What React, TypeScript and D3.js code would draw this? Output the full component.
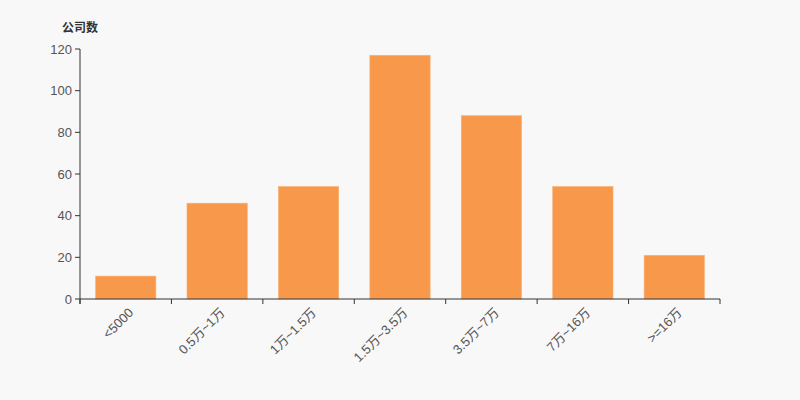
import React from "react";
import * as d3 from "d3";

const categories = ["<5000", "0.5万~1万", "1万~1.5万", "1.5万~3.5万", "3.5万~7万", "7万~16万", ">=16万"];
const counts = [11, 46, 54, 117, 88, 54, 21];
const yTicks = [0, 20, 40, 60, 80, 100, 120];
const yTitle = "公司数";

export default function App() {
  const W = 800, H = 400;
  const left = 80, right = 720, top = 49, bottom = 299;
  const x = d3.scaleBand<string>().domain(categories).range([left, right]).paddingInner(0.34).paddingOuter(0.17);
  const xb = d3.scaleBand<string>().domain(categories).range([left, right]);
  const y = d3.scaleLinear().domain([0, 120]).range([bottom, top]);
  const font = "Arial, 'Liberation Sans', 'Noto Sans CJK SC', sans-serif";
  const boundaries = d3.range(categories.length + 1).map(i => left + i * xb.step());
  return (
    <svg width={W} height={H} style={{ position: "absolute", left: 0, top: 0, background: "#f8f8f8" }} fontFamily={font}>
      <rect x={0} y={0} width={W} height={H} fill="#f8f8f8" />
      <text x={62} y={32} fontSize={12} fontWeight="bold" fill="#333">{yTitle}</text>
      {categories.map((c, i) => (
        <rect key={c} x={x(c)} y={y(counts[i])} width={x.bandwidth()} height={bottom - y(counts[i])}
          fill="#f7984a" stroke="#f9b47a" strokeWidth={0.6} />
      ))}
      <line x1={left} x2={left} y1={top} y2={bottom + 5} stroke="#333" />
      {yTicks.map(t => (
        <g key={t}>
          <line x1={left - 5} x2={left} y1={y(t)} y2={y(t)} stroke="#333" />
          <text x={left - 8} y={y(t)} dy="0.35em" textAnchor="end" fontSize={13} fill="#555">{t}</text>
        </g>
      ))}
      <line x1={left} x2={right} y1={bottom} y2={bottom} stroke="#333" />
      {boundaries.map((b, i) => (
        <line key={i} x1={b} x2={b} y1={bottom} y2={bottom + 5} stroke="#333" />
      ))}
      {categories.map(c => {
        const cx = (xb(c) as number) + xb.step() / 2;
        return (
          <text key={c} transform={`translate(${cx + 2},${bottom + 8}) rotate(-45)`} textAnchor="end" dy="0.7em"
            fontSize={13} fill="#555">{c}</text>
        );
      })}
    </svg>
  );
}
